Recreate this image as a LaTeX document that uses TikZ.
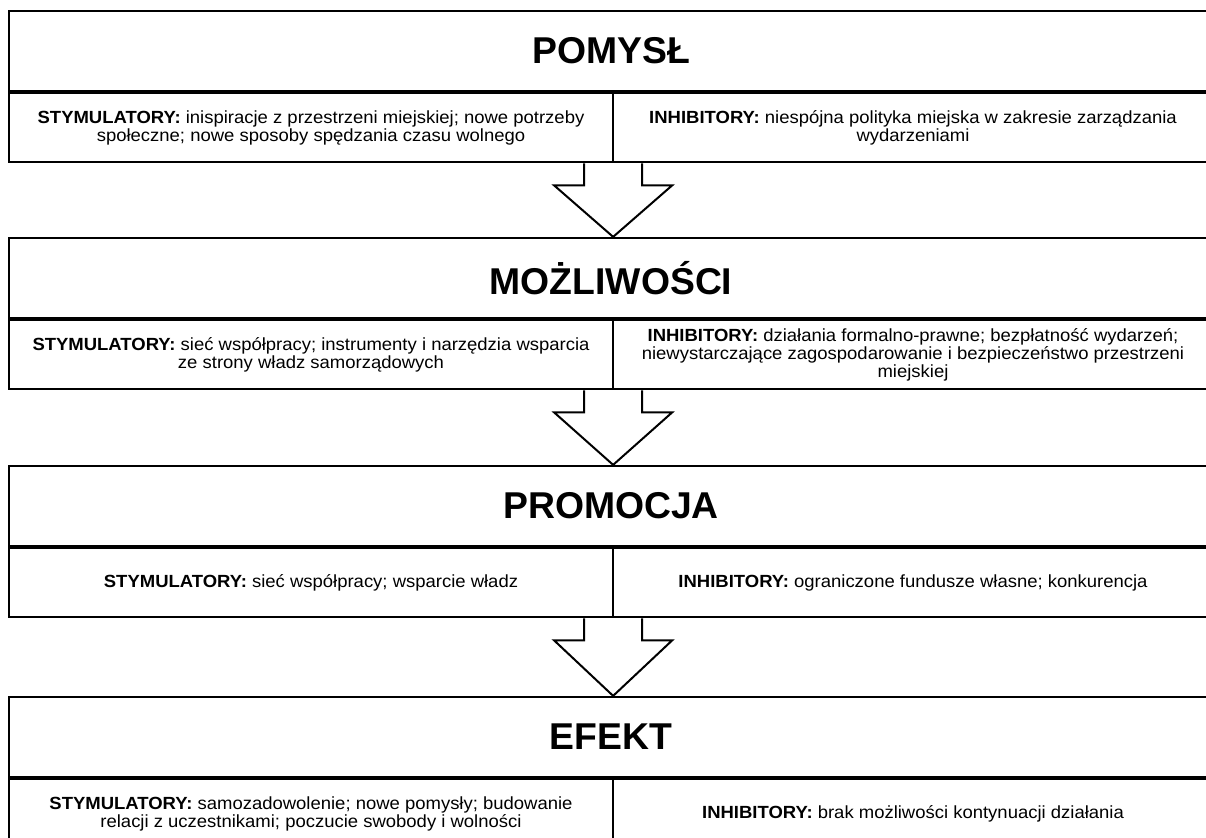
\documentclass[tikz,border=0pt]{standalone}
\usepackage{fontspec}
\setmainfont{Liberation Sans}[FakeStretch=1.05]
\newfontfamily\titlefont{Liberation Sans}
\usetikzlibrary{positioning,calc}
\begin{document}
\begin{tikzpicture}[x=0.75pt,y=-0.75pt,
  titlebox/.style={draw,line width=1.7pt,minimum width=903pt,minimum height=60pt,inner sep=0pt,font=\titlefont\fontsize{28}{30}\selectfont\bfseries},
  cellbox/.style={draw,line width=1.7pt,minimum height=51.75pt,inner sep=0pt,align=center,font=\fontsize{13.2}{13.2}\selectfont},
  blockarrow/.style={draw,line width=1.5pt,line join=miter}]
\useasboundingbox (0,0) rectangle (1206,838);
\clip (0,0) rectangle (1206,838);
% etap 1
\node[titlebox] (t1) at (611,51) {POMYSŁ};
\node[cellbox,minimum width=453pt,anchor=north west] (s1) at (t1.south west)
  {\textbf{STYMULATORY:} inispiracje z przestrzeni miejskiej; nowe potrzeby\\ społeczne; nowe sposoby spędzania czasu wolnego};
\node[cellbox,minimum width=450pt,anchor=north east] (h1) at (t1.south east)
  {\textbf{INHIBITORY:} niespójna polityka miejska w zakresie zarządzania\\ wydarzeniami};
% etap 2
\node[titlebox] (t2) at (611,278) {MOŻLIWOŚCI};
\node[cellbox,minimum width=453pt,anchor=north west] (s2) at (t2.south west)
  {\textbf{STYMULATORY:} sieć współpracy; instrumenty i narzędzia wsparcia\\ ze strony władz samorządowych};
\node[cellbox,minimum width=450pt,anchor=north east] (h2) at (t2.south east)
  {\textbf{INHIBITORY:} działania formalno-prawne; bezpłatność wydarzeń;\\ niewystarczające zagospodarowanie i bezpieczeństwo przestrzeni\\ miejskiej};
% etap 3
\node[titlebox] (t3) at (611,506) {PROMOCJA};
\node[cellbox,minimum width=453pt,anchor=north west] (s3) at (t3.south west)
  {\textbf{STYMULATORY:} sieć współpracy; wsparcie władz};
\node[cellbox,minimum width=450pt,anchor=north east] (h3) at (t3.south east)
  {\textbf{INHIBITORY:} ograniczone fundusze własne; konkurencja};
% etap 4
\node[titlebox] (t4) at (611,737) {EFEKT};
\node[cellbox,minimum width=453pt,anchor=north west] (s4) at (t4.south west)
  {\textbf{STYMULATORY:} samozadowolenie; nowe pomysły; budowanie\\ relacji z uczestnikami; poczucie swobody i wolności};
\node[cellbox,minimum width=450pt,anchor=north east] (h4) at (t4.south east)
  {\textbf{INHIBITORY:} brak możliwości kontynuacji działania};
% strzałki
\foreach \a/\b in {s1/t2,s2/t3,s3/t4}
  \draw[blockarrow] ($(\a.south east)+(-30,0)$) -- ++(0,22) -- ++(-30,0)
    -- ($(\a.south east |- \b.north)+(-1,0)$) -- ($(\a.south east)+(58,22)$)
    -- ++(-30,0) -- ++(0,-22);
\end{tikzpicture}
\end{document}
